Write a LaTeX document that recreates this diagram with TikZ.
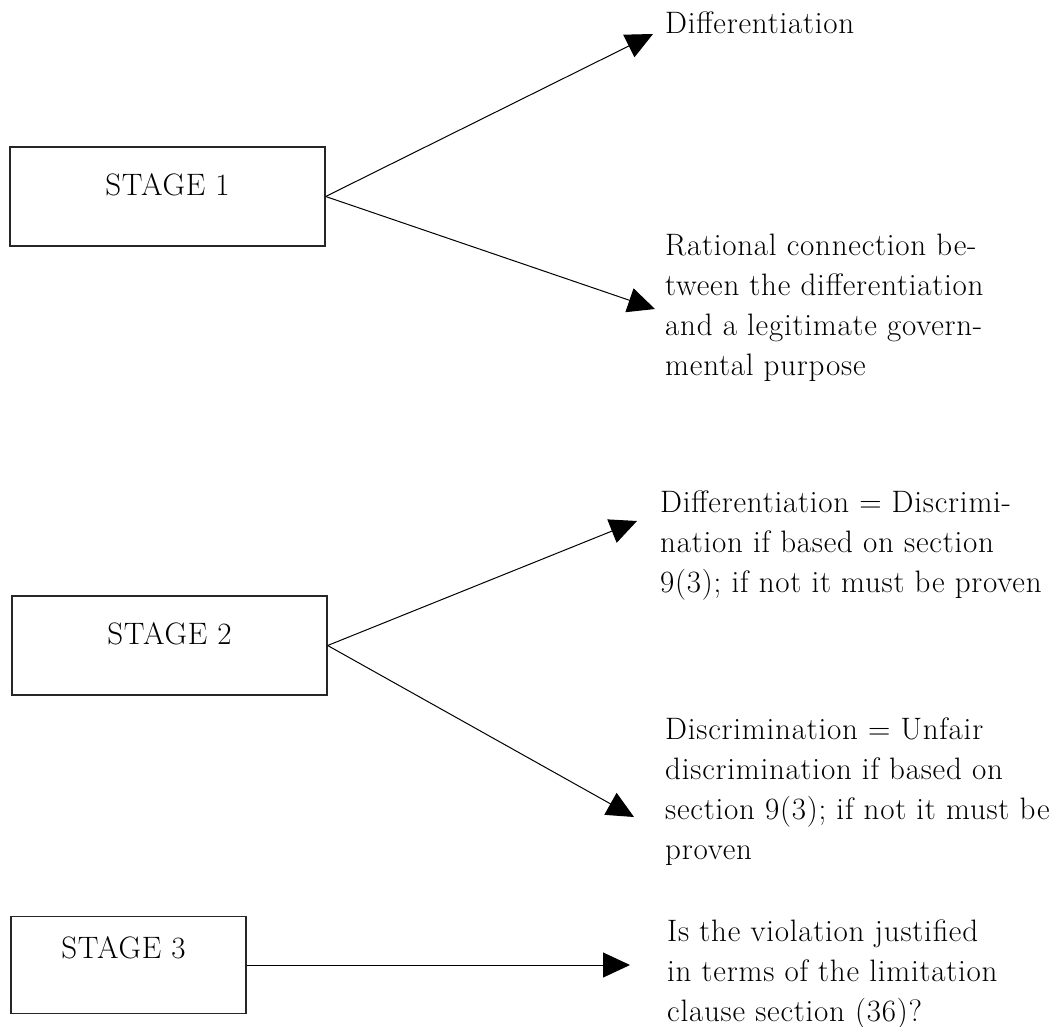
\documentclass[tikz,border=0pt]{standalone}
\usepackage{fontspec}
\setmainfont{Latin Modern Roman}[LetterSpace=2.5]
\usetikzlibrary{arrows.meta,calc}

\newcommand{\bodyfont}{\fontsize{31}{40}\selectfont}

\tikzset{
  stagebox/.style={draw=black!85, line width=1.3pt, rectangle, inner sep=0pt},
  stagetext/.style={anchor=base, inner sep=0pt, font=\bodyfont},
  outcome/.style={anchor=north west, inner sep=0pt, align=left, font=\bodyfont},
  link/.style={line width=1pt, -{Triangle[length=27pt,width=25pt]}}
}

\begin{document}
\begin{tikzpicture}[x=1pt, y=-1pt]
  \useasboundingbox (0,0) rectangle (1049,1027);

  % stage boxes
  \node[stagebox, minimum width=315pt, minimum height=99pt] (s1) at (167.5,196.5) {};
  \node[stagebox, minimum width=315pt, minimum height=99pt] (s2) at (169.5,645.5) {};
  \node[stagebox, minimum width=235pt, minimum height=97pt] (s3) at (128.5,965) {};

  \node[stagetext] (s1t) at ($(s1.center)+(0,-1)$) {STAGE 1};
  \node[stagetext] (s2t) at ($(s2.center)+(0,-1)$) {STAGE 2};
  \node[stagetext] (s3t) at ($(s3.center)+(-5,-7)$) {STAGE 3};

  % outcomes
  \node[outcome] (o1) at (665,11.5) {Differentiation};
  \node[outcome] (o2) at (665,233.5) {Rational connection be-\\tween the differentiation\\and a legitimate govern-\\mental purpose};
  \node[outcome] (o3) at (660,490.5) {Differentiation = Discrimi-\\nation if based on section\\9(3); if not it must be proven};
  \node[outcome] (o4) at (665,717.5) {Discrimination = Unfair\\discrimination if based on\\section 9(3); if not it must be\\proven};
  \node[outcome] (o5) at (667,919.5) {Is the violation justified\\in terms of the limitation\\clause section (36)?};

  % arrow tips
  \coordinate (e1) at (653,34);
  \coordinate (e2) at (655,309);
  \coordinate (e3) at (637,521);
  \coordinate (e4) at (634,817);
  \coordinate (e5) at (630,965);

  % connectors
  \draw[link] (s1.east) -- (e1);
  \draw[link] (s1.east) -- (e2);
  \draw[link] (s2.east) -- (e3);
  \draw[link] (s2.east) -- (e4);
  \draw[link] (s3.east) -- (e5);
\end{tikzpicture}
\end{document}
